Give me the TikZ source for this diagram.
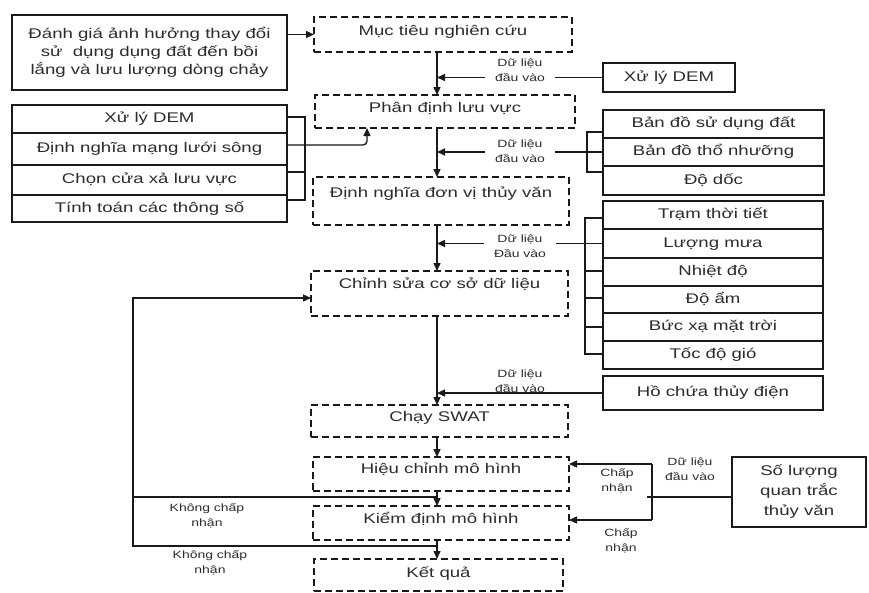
\documentclass[tikz,border=0pt]{standalone}
\usepackage{fontspec}
\setmainfont{Liberation Sans}[FakeStretch=1.33]
\usetikzlibrary{arrows.meta}
\definecolor{ink}{HTML}{1A1A1A}
\definecolor{tx}{HTML}{2C2C2C}
\begin{document}
\begin{tikzpicture}[x=1pt,y=-1pt,
  sbox/.style={draw=ink, line width=1.7pt, inner sep=0pt, outer sep=0pt, text=tx,
    font=\fontsize{14pt}{18pt}\selectfont, align=center},
  row/.style={sbox, text height=10pt, text depth=3pt},
  dbox/.style={draw=ink, line width=2.1pt, dash pattern=on 7pt off 4pt, inner sep=0pt, outer sep=0pt},
  mtxt/.style={text=tx, font=\fontsize{14pt}{18pt}\selectfont, inner sep=0pt, text height=10pt, text depth=3pt},
  stxt/.style={text=tx, font=\fontsize{10.5pt}{14.5pt}\selectfont, align=center, inner sep=1pt},
  wtxt/.style={stxt, fill=white, inner xsep=10pt, inner ysep=0pt},
  conn/.style={draw=ink, line width=1.4pt},
  arr/.style={conn, -{Triangle[length=8pt,width=7pt]}},
]
\fill[white] (0,0) rectangle (869,592);
\useasboundingbox (0,0) rectangle (869,592);

% ---------- left boxes
\node[sbox, minimum width=275pt, minimum height=75pt] (lt) at (149.5,52.5)
  {Đánh giá ảnh hưởng thay đổi\\sử~ dụng dụng đất đến bồi\\lắng và lưu lượng dòng chảy};
\node[row, minimum width=275pt, minimum height=28pt] (ls1) at (149.5,119) {Xử lý DEM};
\node[row, minimum width=275pt, minimum height=32pt] (ls2) at (149.5,149) {Định nghĩa mạng lưới sông};
\node[row, minimum width=275pt, minimum height=30pt] (ls3) at (149.5,180) {Chọn cửa xả lưu vực};
\node[row, minimum width=275pt, minimum height=27pt] (ls4) at (149.5,208.5) {Tính toán các thông số};

% ---------- right boxes
\node[row, minimum width=132pt, minimum height=29pt] (dem) at (669,77.5) {Xử lý DEM};
\node[row, minimum width=221pt, minimum height=28pt] (bd1) at (713.5,124) {Bản đồ sử dụng đất};
\node[row, minimum width=221pt, minimum height=28pt] (bd2) at (713.5,152) {Bản đồ thổ nhưỡng};
\node[row, minimum width=221pt, minimum height=29pt] (bd3) at (713.5,180.5) {Độ dốc};
\node[row, minimum width=220pt, minimum height=28pt] (t1) at (713,215) {Trạm thời tiết};
\node[row, minimum width=220pt, minimum height=29pt] (t2) at (713,243.5) {Lượng mưa};
\node[row, minimum width=220pt, minimum height=28pt] (t3) at (713,272) {Nhiệt độ};
\node[row, minimum width=220pt, minimum height=27pt] (t4) at (713,299.5) {Độ ẩm};
\node[row, minimum width=220pt, minimum height=28pt] (t5) at (713,327) {Bức xạ mặt trời};
\node[row, minimum width=220pt, minimum height=28pt] (t6) at (713,355) {Tốc độ gió};
\node[row, minimum width=220pt, minimum height=34pt] (hcd) at (713,393) {Hồ chứa thủy điện};
\node[sbox, minimum width=134pt, minimum height=70pt, font=\fontsize{14pt}{20pt}\selectfont] (sl) at (799,492)
  {Số lượng\\quan trắc\\thủy văn};

% ---------- dashed process boxes
\node[dbox, minimum width=258pt, minimum height=35pt] (mt) at (443,34.5) {};
\node[mtxt] (mtT) at (443,31.5) {Mục tiêu nghiên cứu};
\node[dbox, minimum width=260pt, minimum height=33pt] (pd) at (445,111.5) {};
\node[mtxt] (pdT) at (445,108.5) {Phân định lưu vực};
\node[dbox, minimum width=256pt, minimum height=48pt] (dn) at (441,201) {};
\node[mtxt] (dnT) at (441,193.5) {Định nghĩa đơn vị thủy văn};
\node[dbox, minimum width=257pt, minimum height=45pt] (cs) at (439.5,293.5) {};
\node[mtxt] (csT) at (439.5,284.5) {Chỉnh sửa cơ sở dữ liệu};
\node[dbox, minimum width=257pt, minimum height=32pt] (sw) at (439.5,421) {};
\node[mtxt] (swT) at (439.5,417.5) {Chạy SWAT};
\node[dbox, minimum width=256pt, minimum height=34pt] (hc) at (441,474) {};
\node[mtxt] (hcT) at (441,469.5) {Hiệu chỉnh mô hình};
\node[dbox, minimum width=256pt, minimum height=34pt] (kd) at (441,523) {};
\node[mtxt] (kdT) at (441,519.5) {Kiểm định mô hình};
\node[dbox, minimum width=249pt, minimum height=32pt] (kq) at (438.5,575) {};
\node[mtxt] (kqT) at (438.5,573.5) {Kết quả};

% ---------- main vertical flow
\coordinate (vx) at (437,0);
\draw[arr] (mt.south -| vx) -- (pd.north -| vx);
\draw[arr] (pd.south -| vx) -- (dn.north -| vx);
\draw[arr] (dn.south -| vx) -- (cs.north -| vx);
\draw[arr] (cs.south -| vx) -- (sw.north -| vx);
\draw[arr] (sw.south -| vx) -- (hc.north -| vx);
\draw[arr] (hc.south -| vx) -- (kd.north -| vx);
\draw[arr] (kd.south -| vx) -- (kq.north -| vx);

% top-left arrow
\draw[arr] (lt.east |- mt.west) -- (mt.west);

% left bracket
\draw[conn] (ls1.east |- 0,117) -- (305,117) -- (305,200) -- (ls4.east |- 0,200);
\draw[conn] (ls3.east |- 0,172) -- (305,172);
\draw[arr, rounded corners=4pt] (ls2.east |- 0,145) -| (pd.south -| 367,0);

% inputs
\coordinate (j1) at (437,77.5);
\coordinate (j2) at (437,152);
\coordinate (j3) at (437,243.5);
\coordinate (j4) at (437,393);
\draw[conn] (bd1.west |- 0,132) -- (587,132) -- (587,172) -- (bd3.west |- 0,172);
\draw[conn] (t1.west |- 0,218) -- (585,218) -- (585,354) -- (t6.west |- 0,354);
\foreach \r/\y in {t3/271,t4/298,t5/327} \draw[conn] (\r.west |- 0,\y) -- (585,\y);
\draw[arr] (dem.west) -- (j1);
\draw[arr] (bd2.west) -- (j2);
\draw[arr] (t2.west) -- (j3);
\draw[arr] (hcd.west) -- (j4);
\node[wtxt] (in1) at (520,70) {Dữ liệu\\đầu vào};
\node[wtxt] (in2) at (520,151) {Dữ liệu\\đầu vào};
\node[wtxt] (in3) at (520,246) {Dữ liệu\\Đầu vào};
\node[wtxt] (in4) at (520,381) {Dữ liệu\\đầu vào};

% bottom right calibration inputs
\coordinate (bt) at (652,464);
\coordinate (bb) at (652,520);
\coordinate (bs) at (647,497);
\draw[conn] (sl.west |- bs) -- (bs);
\draw[conn] (bt) -- (bb);
\draw[arr] (bt) -- (hc.east |- bt);
\draw[arr] (bb) -- (kd.east |- bb);
\node[stxt] (dl5) at (690,469) {Dữ liệu\\đầu vào};
\node[stxt] (cn1) at (617,481) {Chấp\\nhận};
\node[stxt] (cn2) at (621,541) {Chấp\\nhận};

% feedback loop
\coordinate (j5) at (437,497);
\coordinate (j6) at (437,546);
\coordinate (lp) at (133,298);
\draw[arr] (j5) -| (lp) -- (cs.west |- lp);
\draw[conn] (j6) -| (lp);
\node[stxt] (nk1) at (207,516) {Không chấp\\nhận};
\node[stxt] (nk2) at (210,563) {Không chấp\\nhận};
\end{tikzpicture}
\end{document}
